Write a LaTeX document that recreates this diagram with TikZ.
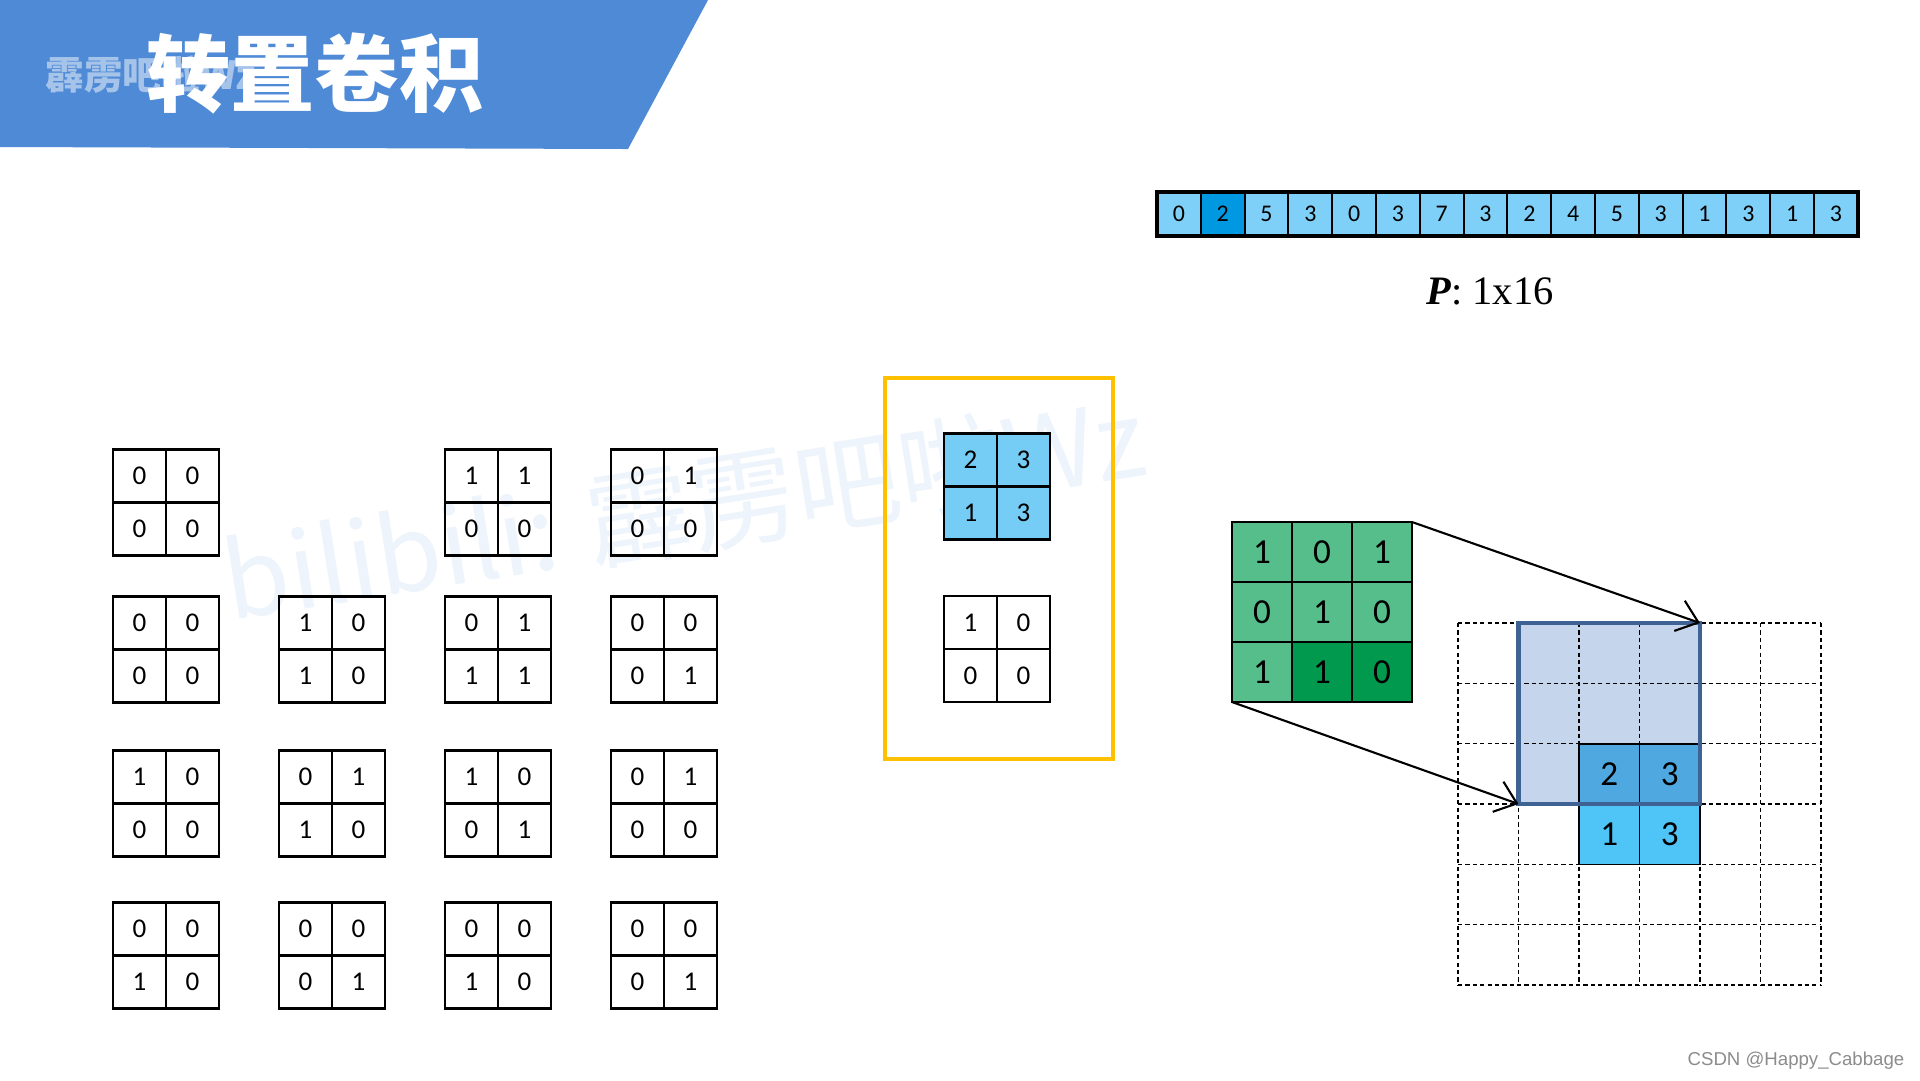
\documentclass[tikz,border=0pt]{standalone}
\usepackage{fontspec}
\setmainfont{Carlito}
\newfontfamily\cjkfont{Noto Sans CJK SC}
\newfontfamily\timesfont{Liberation Serif}
\newfontfamily\arialfont{Liberation Sans}
\usepackage{tikz}
\usetikzlibrary{arrows.meta,positioning}
\definecolor{bannerblue}{HTML}{4E8AD6}
\definecolor{plight}{HTML}{7FD0F8}
\definecolor{pdark}{HTML}{0098E0}
\definecolor{boxyellow}{HTML}{FFC000}
\definecolor{kblue}{HTML}{75CDF5}
\definecolor{glight}{HTML}{55BE8A}
\definecolor{gdark}{HTML}{00994D}
\definecolor{winfill}{HTML}{C5D6EC}
\definecolor{winedge}{HTML}{3E6293}
\definecolor{hitdark}{HTML}{4FA9E0}
\definecolor{hitlight}{HTML}{4FC4F7}
\definecolor{wmblue}{HTML}{EEF4FB}

\begin{document}
\begin{tikzpicture}[x=0.1mm,y=-0.1mm,
    cell/.style={draw,thick,minimum size=5.3mm,inner sep=0pt,outer sep=0pt,font=\fontsize{7.7}{9}\selectfont},
    pcell/.style={draw,line width=0.6pt,minimum width=4.38mm,minimum height=4.4mm,inner sep=0pt,outer sep=0pt,font=\fontsize{6.8}{8}\selectfont},
    gcell/.style={draw,line width=0.5pt,fill=glight,minimum size=6mm,inner sep=0pt,outer sep=0pt,font=\fontsize{10}{12}\selectfont},
    ocell/.style={draw,line width=0.4pt,minimum width=6.05mm,minimum height=6.03mm,inner sep=0pt,outer sep=0pt,font=\fontsize{10}{12}\selectfont},
    gridline/.style={line width=0.4pt,dash pattern=on 1.2pt off 0.9pt},
    arr/.style={-{Straight Barb[length=2mm,width=3.2mm]},line width=0.6pt}]
    \useasboundingbox[fill=white] (0,0) rectangle (1920,1080);

    \node[rotate=9,text=wmblue,font=\cjkfont\fontsize{30}{34}\selectfont] (wm) at (684,508) {bilibili: 霹雳吧啦Wz};

    \fill[bannerblue] (0,0) -- (708,0) -- (628,149) -- (0,147) -- cycle;
    \node[anchor=west,text=white,opacity=0.5,font=\cjkfont\bfseries\fontsize{11}{13}\selectfont] (tmark) at (33,75) {霹雳吧啦Wz};
    \node[text=white,font=\cjkfont\bfseries\fontsize{24}{28}\selectfont] (title) at (315,73) {转置卷积};

    \foreach \v/\c [count=\i] in {0/plight,2/pdark,5/plight,3/plight,0/plight,3/plight,7/plight,3/plight,2/plight,4/plight,5/plight,3/plight,1/plight,3/plight,1/plight,3/plight}
        \node[pcell,fill=\c] (p\i) at ({1157+43.8*(\i-0.5)},214) {\v};
    \draw[line width=1.2pt] (p1.north west) rectangle (p16.south east);
    \node[font=\timesfont\fontsize{11.5}{14}\selectfont] (plabel) at (1490,291) {\textbf{\textit{P}}: 1x16};

    \foreach \y/\c/\va/\vb/\vc/\vd in {476/1/0/0/0/0, 476/3/1/1/0/0, 476/4/0/1/0/0,
        623/1/0/0/0/0, 623/2/1/0/1/0, 623/3/0/1/1/1, 623/4/0/0/0/1,
        777/1/1/0/0/0, 777/2/0/1/1/0, 777/3/1/0/0/1, 777/4/0/1/0/0,
        929/1/0/0/1/0, 929/2/0/0/0/1, 929/3/0/0/1/0, 929/4/0/0/0/1} {
        \node[cell] (k\y\c-a) at ({139.5+166*(\c-1)},\y) {\va};
        \node[cell,right=0pt of k\y\c-a] (k\y\c-b) {\vb};
        \node[cell,below=0pt of k\y\c-a] (k\y\c-c) {\vc};
        \node[cell,right=0pt of k\y\c-c] (k\y\c-d) {\vd};
    }

    \draw[boxyellow,line width=1.4pt] (885,378) rectangle (1113,759);
    \node[cell,fill=kblue] (y1) at (970.5,460) {2};
    \node[cell,fill=kblue,right=0pt of y1] (y2) {3};
    \node[cell,fill=kblue,below=0pt of y1] (y3) {1};
    \node[cell,fill=kblue,right=0pt of y3] (y4) {3};
    \node[cell] (w1) at (970.5,622.5) {1};
    \node[cell,right=0pt of w1] (w2) {0};
    \node[cell,below=0pt of w1] (w3) {0};
    \node[cell,right=0pt of w3] (w4) {0};

    \foreach \v [count=\i] in {1,0,1}
        \node[gcell] (g1\i) at ({1262+60*(\i-1)},552) {\v};
    \foreach \v [count=\i] in {0,1,0}
        \node[gcell] (g2\i) at ({1262+60*(\i-1)},612) {\v};
    \node[gcell] (g31) at (1262,672) {1};
    \node[gcell,fill=gdark] (g32) at (1322,672) {1};
    \node[gcell,fill=gdark] (g33) at (1382,672) {0};

    \fill[winfill] (1518.5,623) rectangle (1700,804);
    \foreach \k in {0,...,6} {
        \draw[gridline] ({1458+60.5*\k},623) -- ({1458+60.5*\k},985);
        \draw[gridline] (1458,{623+60.3*\k}) -- (1821,{623+60.3*\k});
    }
    \node[ocell,fill=hitdark] (h1) at (1609.25,774) {2};
    \node[ocell,fill=hitdark] (h2) at (1669.75,774) {3};
    \node[ocell,fill=hitlight] (h3) at (1609.25,834.3) {1};
    \node[ocell,fill=hitlight] (h4) at (1669.75,834.3) {3};
    \coordinate (win-ne) at (1700,623);
    \coordinate (win-sw) at (1518.5,804);
    \draw[winedge,line width=1.2pt] (win-sw) rectangle (win-ne);

    \draw[arr] (g13.north east) -- (win-ne);
    \draw[arr] (g31.south west) -- (win-sw);

    \node[anchor=east,inner sep=0pt,text=black!45,font=\arialfont\fontsize{5.3}{7}\selectfont] (credit) at (1905,1061) {CSDN @Happy\_Cabbage};
\end{tikzpicture}
\end{document}
